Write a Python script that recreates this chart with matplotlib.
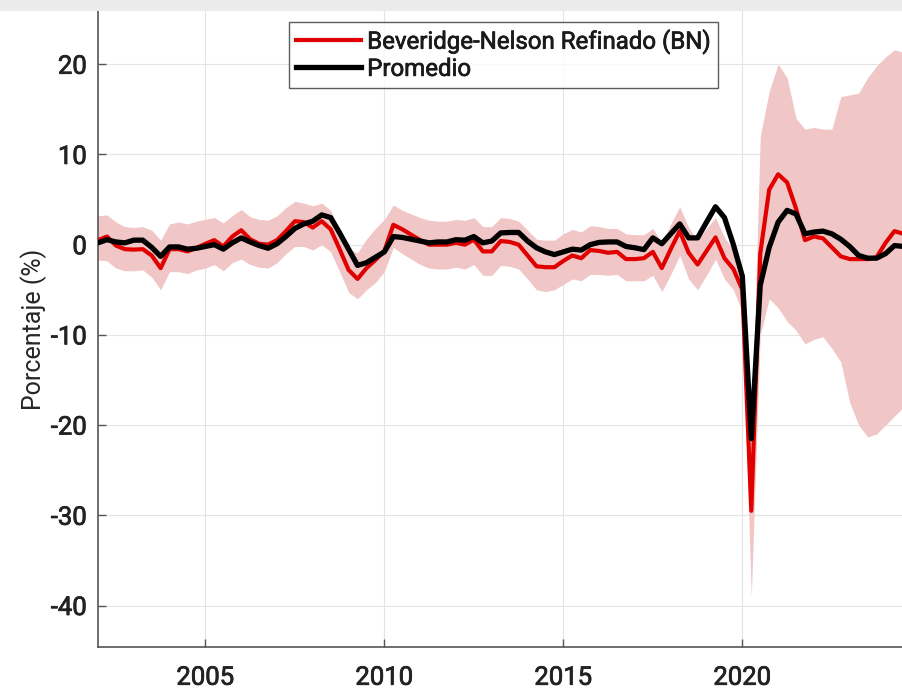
import numpy as np
import matplotlib
matplotlib.use("Agg")
import matplotlib.pyplot as plt
import matplotlib.patheffects as pe
from matplotlib.patches import Rectangle

# Brecha del producto trimestral 2002T1 - 2024T3 (porcentaje)
inicio = 2002.0
paso = 0.25

bn = [0.5, 0.9, -0.1, -0.5, -0.55, -0.5, -1.2, -2.6, -0.5, -0.5,
      -0.75, -0.35, 0.1, 0.5, -0.2, 0.9, 1.6, 0.6, 0.1, 0.0,
      0.5, 1.5, 2.6, 2.5, 1.9, 2.6, 1.7, -0.5, -2.8, -3.8,
      -2.6, -1.7, -0.7, 2.2, 1.7, 1.1, 0.5, 0.0, 0.0, 0.0,
      0.2, 0.0, 0.55, -0.75, -0.75, 0.4, 0.3, 0.0, -1.2, -2.4,
      -2.5, -2.5, -1.8, -1.2, -1.5, -0.6, -0.7, -0.9, -0.8, -1.6,
      -1.6, -1.5, -0.8, -2.6, -0.5, 1.5, -0.9, -2.2, -0.7, 0.8,
      -1.5, -2.7, -5.0, -29.5, -1.0, 6.1, 7.8, 6.9, 4.0, 0.5,
      0.9, 0.7, -0.3, -1.3, -1.6, -1.6, -1.6, -1.4, 0.2, 1.5,
      1.2]

promedio = [0.2, 0.55, 0.3, 0.2, 0.5, 0.5, -0.3, -1.3, -0.25, -0.25,
            -0.5, -0.4, -0.2, 0.0, -0.5, 0.2, 0.75, 0.3, -0.1, -0.4,
            0.1, 0.9, 1.8, 2.3, 2.6, 3.3, 3.0, 1.3, -0.5, -2.3,
            -2.0, -1.4, -0.8, 0.9, 0.8, 0.6, 0.4, 0.2, 0.3, 0.3,
            0.55, 0.5, 0.9, 0.2, 0.4, 1.3, 1.35, 1.35, 0.4, -0.35,
            -0.8, -1.1, -0.8, -0.5, -0.6, 0.0, 0.25, 0.3, 0.3, -0.2,
            -0.35, -0.55, 0.75, 0.1, 1.2, 2.3, 0.75, 0.75, 2.5, 4.2,
            3.0, 0.0, -3.5, -21.5, -4.5, -0.3, 2.5, 3.8, 3.4, 1.2,
            1.4, 1.5, 1.2, 0.6, -0.2, -1.2, -1.5, -1.5, -1.0, -0.1,
            -0.2]

# banda de confianza del BN
bn_sup = [3.2, 3.3, 2.5, 2.0, 1.9, 2.0, 1.6, 0.5, 2.3, 2.5,
          2.3, 2.6, 2.8, 3.0, 2.4, 3.2, 3.9, 3.1, 2.8, 2.7,
          3.2, 4.1, 4.8, 4.6, 4.3, 4.6, 3.8, 1.5, -0.5, -0.9,
          0.6, 1.8, 2.8, 4.4, 3.8, 3.4, 3.0, 2.7, 2.6, 2.6,
          2.8, 2.7, 3.0, 2.0, 2.0, 3.0, 2.9, 2.6, 1.6, 0.6,
          0.5, 0.5, 1.2, 1.7, 1.4, 2.1, 2.0, 1.8, 1.8, 1.2,
          1.1, 1.1, 1.8, 0.2, 2.3, 4.2, 1.9, 0.5, 1.8, 3.0,
          0.8, -0.6, -3.0, -22.0, 12.0, 17.0, 20.0, 18.5, 14.0, 12.8,
          13.0, 12.8, 12.8, 16.4, 16.6, 16.8, 18.5, 19.8, 20.8, 21.6,
          21.3]

bn_inf = [-1.7, -1.8, -2.6, -2.9, -2.9, -2.8, -3.6, -5.0, -3.0, -3.0,
          -3.2, -2.8, -2.6, -2.2, -2.9, -2.0, -1.6, -2.2, -2.5, -2.6,
          -2.0, -1.0, -0.2, -0.2, -0.6, 0.0, -0.8, -3.0, -5.3, -6.0,
          -5.0, -4.2, -3.0, -0.3, -1.0, -1.6, -2.2, -2.6, -2.7, -2.7,
          -2.5, -2.7, -2.2, -3.4, -3.4, -2.3, -2.4, -2.7, -3.8, -5.0,
          -5.2, -5.0, -4.4, -3.8, -4.0, -3.3, -3.3, -3.4, -3.3, -4.0,
          -4.0, -4.0, -3.4, -5.2, -3.3, -1.2, -3.8, -5.0, -3.4, -1.6,
          -3.8, -5.0, -7.5, -39.0, -10.0, -6.0, -7.0, -8.5, -9.5, -11.0,
          -10.5, -10.2, -11.5, -13.0, -17.5, -20.0, -21.3, -21.0, -20.0, -19.0,
          -18.0]

anios_ticks = [2005, 2010, 2015, 2020]
y_ticks = [-40, -30, -20, -10, 0, 10, 20]

fechas = inicio + paso * np.arange(len(bn))

plt.rcParams['font.family'] = ['Roboto', 'DejaVu Sans']
plt.rcParams['axes.unicode_minus'] = False

fig = plt.figure(figsize=(9.02, 6.91), dpi=100)
ax = fig.add_axes([98/902, 44/691, 804/902, 636/691])

# franja gris superior
fig.patches.append(Rectangle((0, 680/691), 1, 11/691, transform=fig.transFigure,
                             facecolor='#ebebeb', edgecolor='none', zorder=0))

ax.fill_between(fechas, bn_inf, bn_sup, color='#f0c6c6', linewidth=0, zorder=2)
ax.plot(fechas, bn, color='#e00000', linewidth=3.0, zorder=3,
        label='Beveridge-Nelson Refinado (BN)')
ax.plot(fechas, promedio, color='black', linewidth=3.8, zorder=4,
        label='Promedio')

ax.set_xlim(2002.0, 2024.46)
ax.set_ylim(-44.6, 25.9)
ax.set_xticks(anios_ticks)
ax.set_yticks(y_ticks)
ax.grid(True, color='#e4e4e4', linewidth=0.8, zorder=1)
ax.set_axisbelow(True)

for s in ['top', 'right']:
    ax.spines[s].set_visible(False)
for s in ['left', 'bottom']:
    ax.spines[s].set_color('#555555')
    ax.spines[s].set_linewidth(1.2)

ax.tick_params(direction='in', length=6, width=1, color='#555555',
               labelsize=18.5, labelcolor='#222222')
ax.tick_params(axis='x', pad=13.5)
ax.tick_params(axis='y', pad=8)

# trazo fino para dar peso "medium" a los numeros
grueso = [pe.withStroke(linewidth=0.55, foreground='#222222')]
for lab in ax.get_xticklabels() + ax.get_yticklabels():
    lab.set_path_effects(grueso)

ax.set_ylabel('Porcentaje (%)', fontsize=18, color='#262626', labelpad=3)

leg = ax.legend(loc='upper center', bbox_to_anchor=(0.5045, 0.9825), frameon=True,
                fancybox=False, edgecolor='#333333', fontsize=17.3,
                handlelength=2.7, handletextpad=0.25, borderpad=0.3,
                labelspacing=0.15, borderaxespad=0)
leg.get_frame().set_linewidth(1.0)
for t in leg.get_texts():
    t.set_color('#1a1a1a')
    t.set_path_effects([pe.withStroke(linewidth=0.5, foreground='#1a1a1a')])

fig.savefig('out.png', dpi=100)
